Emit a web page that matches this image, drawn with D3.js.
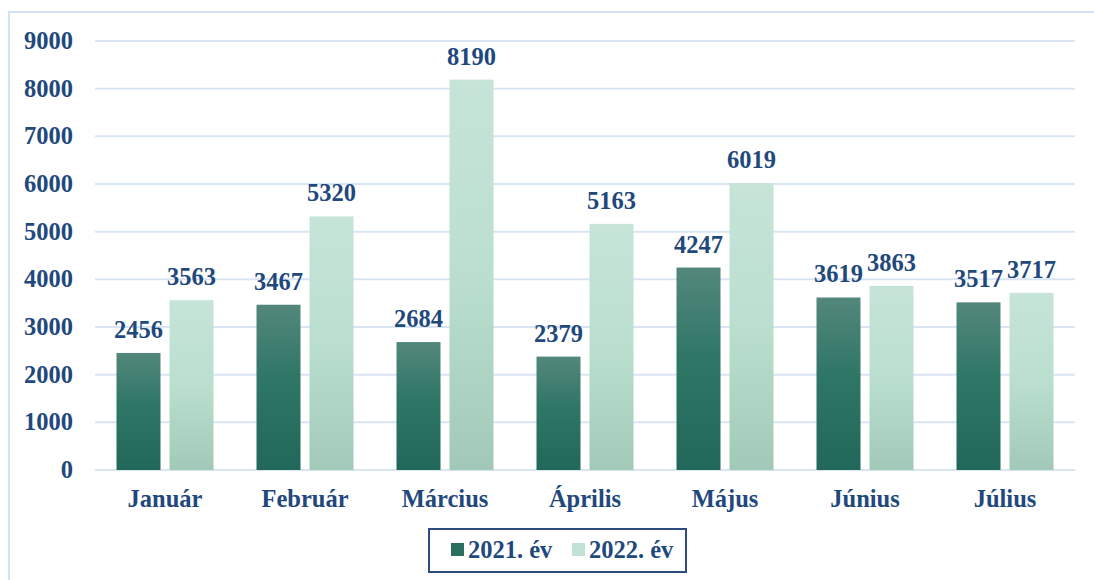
<!DOCTYPE html>
<html>
<head>
<meta charset="utf-8">
<script src="https://cdn.jsdelivr.net/npm/d3@7"></script>
<style>
  body { margin: 0; background: #fff; }
  text { font-family: "Liberation Serif", "Times New Roman", serif; font-weight: bold; fill: #1f497d; }
</style>
</head>
<body>
<div id="chart"></div>
<script>
// chart data
var months = ["Január", "Február", "Március", "Április", "Május", "Június", "Július"]
var series_names = ["2021. év", "2022. év"]
var values_2021 = [2456, 3467, 2684, 2379, 4247, 3619, 3517]
var values_2022 = [3563, 5320, 8190, 5163, 6019, 3863, 3717]
var y_ticks = [0, 1000, 2000, 3000, 4000, 5000, 6000, 7000, 8000, 9000]

var width = 1094, height = 580
var margin = {top: 41, left: 95, right: 19, bottom: 110}
var font_size = "24.5px"

var svg = d3.select("#chart").append("svg")
    .attr("width", width)
    .attr("height", height)

// gradients for the bars
var defs = svg.append("defs")
var grads = [
  {id: "g2021", stops: [["0%", "#54877c"], ["45%", "#2e7666"], ["100%", "#21685a"]]},
  {id: "g2022", stops: [["0%", "#c6e4d8"], ["50%", "#badfcf"], ["100%", "#a2c9b8"]]}
]
grads.forEach(function(g) {
  var lg = defs.append("linearGradient").attr("id", g.id)
      .attr("x1", 0).attr("y1", 0).attr("x2", 0).attr("y2", 1)
  g.stops.forEach(function(s) {
    lg.append("stop").attr("offset", s[0]).attr("stop-color", s[1])
  })
})

// outer frame
svg.append("rect")
    .attr("x", 9).attr("y", 12)
    .attr("width", 1100).attr("height", 600)
    .attr("fill", "none")
    .attr("stroke", "#d3e1f1")
    .attr("stroke-width", 2)

var x = d3.scaleBand()
    .domain(months)
    .range([margin.left, width - margin.right])

var y = d3.scaleLinear()
    .domain([0, 9000])
    .range([height - margin.bottom, margin.top])

// grid lines
svg.append("g").selectAll("line")
    .data(y_ticks)
    .enter()
    .append("line")
    .attr("x1", margin.left)
    .attr("x2", width - margin.right)
    .attr("y1", function(d) { return y(d); })
    .attr("y2", function(d) { return y(d); })
    .attr("stroke", "#d9e5f3")
    .attr("stroke-width", 2)

// y tick labels
svg.append("g").selectAll("text")
    .data(y_ticks)
    .enter()
    .append("text")
    .attr("x", 73)
    .attr("y", function(d) { return y(d) + 8; })
    .attr("text-anchor", "end")
    .style("font-size", font_size)
    .text(function(d) { return d; })

var bar_w = 44, gap = 9
var series = [values_2021, values_2022]
var offsets = [-(bar_w + gap / 2), gap / 2]

series.forEach(function(vals, si) {
  var g = svg.append("g")
  g.selectAll("rect")
      .data(vals)
      .enter()
      .append("rect")
      .attr("x", function(d, i) { return x(months[i]) + x.bandwidth() / 2 + offsets[si]; })
      .attr("y", function(d) { return y(d); })
      .attr("width", bar_w)
      .attr("height", function(d) { return y(0) - y(d); })
      .attr("fill", "url(#g" + (si === 0 ? "2021" : "2022") + ")")

  g.selectAll("text")
      .data(vals)
      .enter()
      .append("text")
      .attr("x", function(d, i) { return x(months[i]) + x.bandwidth() / 2 + offsets[si] + bar_w / 2; })
      .attr("y", function(d) { return y(d) - 15; })
      .attr("text-anchor", "middle")
      .style("font-size", font_size)
      .text(function(d) { return d; })
})

// category labels
svg.append("g").selectAll("text")
    .data(months)
    .enter()
    .append("text")
    .attr("x", function(d) { return x(d) + x.bandwidth() / 2; })
    .attr("y", 507)
    .attr("text-anchor", "middle")
    .style("font-size", font_size)
    .text(function(d) { return d; })

// legend
var legend = svg.append("g")
legend.append("rect")
    .attr("x", 429).attr("y", 529)
    .attr("width", 257).attr("height", 43)
    .attr("fill", "#fff")
    .attr("stroke", "#2c4d7e")
    .attr("stroke-width", 2)

var leg_x = [451, 572]
series_names.forEach(function(name, i) {
  legend.append("rect")
      .attr("x", leg_x[i]).attr("y", 543)
      .attr("width", 13).attr("height", 13)
      .attr("fill", i === 0 ? "#2a6f60" : "#c2e2d5")
  legend.append("text")
      .attr("x", leg_x[i] + 17)
      .attr("y", 558)
      .style("font-size", font_size)
      .text(name)
})
</script>
</body>
</html>
